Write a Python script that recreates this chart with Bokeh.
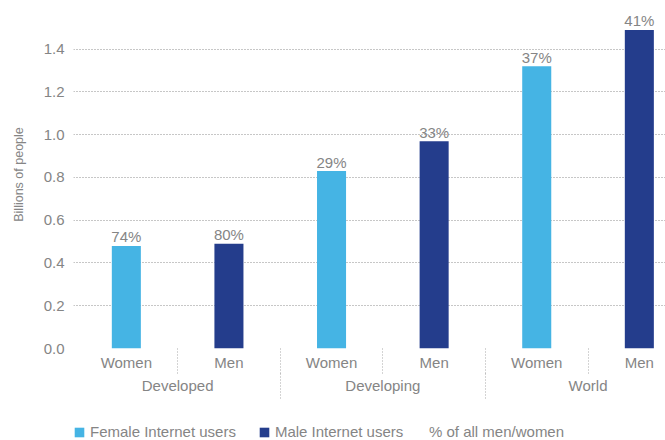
import numpy as np
from bokeh.plotting import figure
from bokeh.layouts import column
from bokeh.models import (ColumnDataSource, Range1d, LinearAxis, FixedTicker,
                          NumeralTickFormatter, Legend, LegendItem)
from bokeh.core.properties import value
from bokeh.embed import file_html
from bokeh.resources import INLINE

# ---- data ----
regions = ["Developed", "Developed", "Developing", "Developing", "World", "World"]
sexes = ["Women", "Men", "Women", "Men", "Women", "Men"]
users_bn = [0.48, 0.49, 0.83, 0.97, 1.32, 1.49]
share_labels = ["74%", "80%", "29%", "33%", "37%", "41%"]
y_ticks = [0.0, 0.2, 0.4, 0.6, 0.8, 1.0, 1.2, 1.4]
series_names = {"Women": "Female Internet users", "Men": "Male Internet users"}
note_label = "% of all men/women"

# ---- style ----
FONT = value("Liberation Sans")
FS = "15px"
GRAY = "#858585"
LIGHT = "#45B4E4"
DARK = "#243D8C"
GRID = "#8f8f8f"
COLORS = {"Women": LIGHT, "Men": DARK}

x = np.arange(len(sexes))
src = ColumnDataSource(dict(x=x, y=users_bn, sex=sexes, region=regions, lab=share_labels))

def subset(sex):
    idx = [i for i, s in enumerate(sexes) if s == sex]
    return ColumnDataSource(dict(x=x[idx], y=[users_bn[i] for i in idx]))

p = figure(width=665, height=400, output_backend="svg", toolbar_location=None,
           x_range=Range1d(-0.515, 5.255), y_range=Range1d(0, 1.628),
           x_axis_location=None,
           min_border_left=73, min_border_right=0, min_border_top=0, min_border_bottom=52)
p.outline_line_color = None
p.background_fill_color = "white"

for sex in ("Women", "Men"):
    p.vbar(x="x", top="y", width=0.283, source=subset(sex), fill_color=COLORS[sex], line_color=None)

p.text(x="x", y="y", text="lab", source=src, text_align="center",
       text_baseline="alphabetic", y_offset=-9, text_font=FONT,
       text_font_size=FS, text_color=GRAY)

# y axis
ya = p.yaxis[0]
ya.ticker = FixedTicker(ticks=y_ticks)
ya.formatter = NumeralTickFormatter(format="0.0")
ya.axis_line_color = None
ya.major_tick_line_color = None
ya.minor_tick_line_color = None
ya.major_tick_out = 0
ya.minor_tick_out = 0
ya.major_label_standoff = 9
ya.major_label_text_font = "Liberation Sans"
ya.major_label_text_font_size = FS
ya.major_label_text_color = GRAY
ya.axis_label = "Billions of people"
ya.axis_label_text_font = "Liberation Sans"
ya.axis_label_text_font_size = "12.5px"
ya.axis_label_text_font_style = "normal"
ya.axis_label_text_color = GRAY
ya.axis_label_standoff = 15

p.ygrid.ticker = FixedTicker(ticks=y_ticks)
p.ygrid.grid_line_color = GRID
p.ygrid.grid_line_dash = "1 2"
p.xgrid.visible = False

# x axes: sex row and region row with dotted separators
dividers = [i + 0.5 for i in range(len(sexes) - 1)]
long_div = [i + 0.5 for i in range(len(sexes) - 1) if regions[i] != regions[i + 1]]
uniq_regions = list(dict.fromkeys(regions))
region_pos = [float(np.mean([i for i, r in enumerate(regions) if r == g])) for g in uniq_regions]

sub_axis = LinearAxis(ticker=FixedTicker(ticks=[float(v) for v in x], minor_ticks=dividers),
                      major_label_overrides={float(i): s for i, s in zip(x, sexes)})
grp_axis = LinearAxis(ticker=FixedTicker(ticks=region_pos, minor_ticks=long_div),
                      major_label_overrides={pos: g for pos, g in zip(region_pos, uniq_regions)})
for ax, length, standoff in ((sub_axis, 25, 5), (grp_axis, 31, 3)):
    ax.axis_line_color = None
    ax.major_tick_line_color = None
    ax.major_tick_out = 0
    ax.major_tick_in = 0
    ax.minor_tick_line_color = "#a8a8a8"
    ax.minor_tick_line_dash = "1 2"
    ax.minor_tick_in = -length
    ax.minor_tick_out = 0
    ax.major_label_standoff = standoff
    ax.major_label_text_font = "Liberation Sans"
    ax.major_label_text_font_size = FS
    ax.major_label_text_color = GRAY
p.add_layout(sub_axis, "below")
p.add_layout(grp_axis, "below")

# legend strip (separate small figure below the chart; its data stays out of view)
lp = figure(width=665, height=40, output_backend="svg", toolbar_location=None,
            x_range=Range1d(-3, -2), y_range=Range1d(-3, -2),
            x_axis_location=None, y_axis_location=None,
            min_border_left=0, min_border_right=0, min_border_top=0, min_border_bottom=0)
lp.outline_line_color = None
lp.xgrid.visible = False
lp.ygrid.visible = False
lf = lp.vbar(x="x", top="y", width=0.1, source=subset("Women"), fill_color=LIGHT, line_color=None)
lm = lp.vbar(x="x", top="y", width=0.1, source=subset("Men"), fill_color=DARK, line_color=None)
ln = lp.vbar(x="x", top="y", width=0.1, source=src, fill_alpha=0, line_alpha=0)

common = dict(orientation="horizontal", padding=0, margin=0, border_line_alpha=0,
              background_fill_alpha=0, label_text_font="Liberation Sans",
              label_text_font_size=FS, label_text_color=GRAY, glyph_height=12,
              label_height=12)
leg1 = Legend(items=[LegendItem(label=series_names["Women"], renderers=[lf]),
                     LegendItem(label=series_names["Men"], renderers=[lm])],
              location=(0, 0), glyph_width=12, label_standoff=5, spacing=22, **common)
leg2 = Legend(items=[LegendItem(label=note_label, renderers=[ln])],
              location=(355, 0), glyph_width=1, label_standoff=0, **common)
lp.add_layout(leg1, "center")
lp.add_layout(leg2, "center")

open("out.html", "w").write(file_html(column(p, lp, spacing=0), INLINE))
